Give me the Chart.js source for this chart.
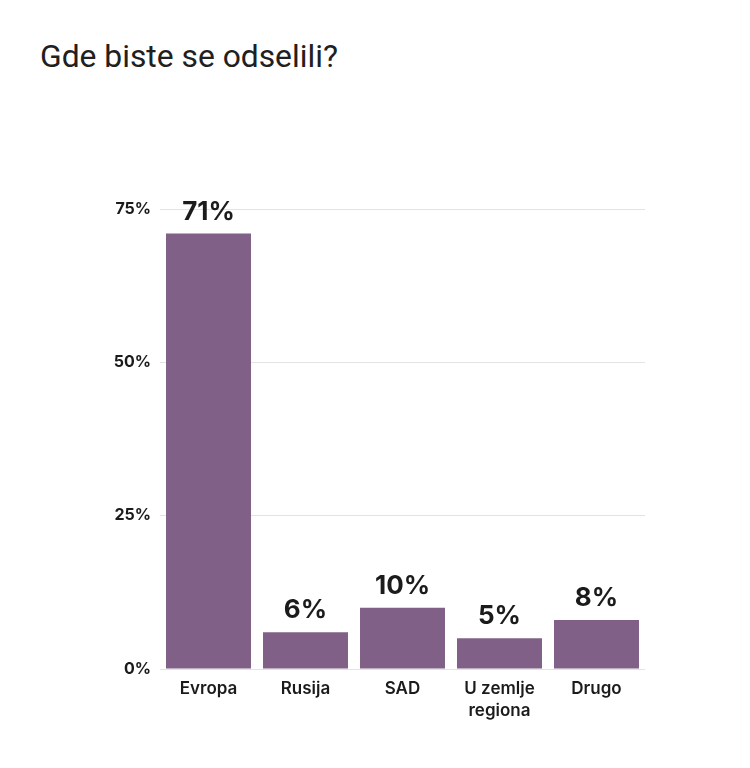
<!DOCTYPE html>
<html>
<head>
<meta charset="utf-8">
<script src="https://cdn.jsdelivr.net/npm/chart.js@4"></script>
<style>
  html, body { margin: 0; padding: 0; background: #fff; }
  #wrap { position: relative; width: 750px; height: 768px; }
  #title {
    position: absolute; left: 40px; top: 36px;
    font-family: Roboto, sans-serif; font-size: 31.8px; color: #202020;
    margin: 0; font-weight: 400; line-height: 40px;
  }
  canvas { position: absolute; left: 0; top: 0; }
</style>
</head>
<body>
<div id="wrap">
  <h1 id="title">Gde biste se odselili?</h1>
  <canvas id="chart" width="750" height="768"></canvas>
</div>
<script>
const categories = ['Evropa', 'Rusija', 'SAD', ['U zemlje', 'regiona'], 'Drugo'];
const values = [71, 6, 10, 5, 8];
const yTicks = [0, 25, 50, 75];

const barColor = '#806086';
const textColor = '#1b1b1b';
const fontFamily = 'Inter, sans-serif';

// value labels above bars
const valueLabels = {
    id: 'valueLabels',
    afterDatasetsDraw(chart) {
        const ctx = chart.ctx;
        const meta = chart.getDatasetMeta(0);
        ctx.save();
        ctx.font = '700 26px ' + fontFamily;
        ctx.fillStyle = textColor;
        ctx.textAlign = 'center';
        ctx.textBaseline = 'alphabetic';
        meta.data.forEach((bar, i) => {
            ctx.fillText(values[i] + '%', bar.x, bar.y - 14);
        });
        ctx.restore();
    }
};

const ctx = document.getElementById('chart').getContext('2d');
new Chart(ctx, {
    type: 'bar',
    data: {
        labels: categories,
        datasets: [{
            data: values,
            backgroundColor: barColor,
            borderWidth: 0,
            barPercentage: 0.876,
            categoryPercentage: 1
        }]
    },
    options: {
        responsive: false,
        animation: false,
        layout: { padding: { top: 209, right: 105, bottom: 0, left: 0 } },
        scales: {
            x: {
                grid: { display: false, drawTicks: false },
                border: { display: false },
                ticks: {
                    color: textColor,
                    font: { family: fontFamily, size: 17, weight: '600', lineHeight: 1.3 },
                    padding: 9,
                    maxRotation: 0
                },
                afterFit(scale) { scale.height = 99; }
            },
            y: {
                min: 0,
                max: 75,
                afterBuildTicks(scale) { scale.ticks = yTicks.map(v => ({ value: v })); },
                grid: { color: '#e3e3e3', drawTicks: false, lineWidth: 1 },
                border: { display: false },
                ticks: {
                    color: textColor,
                    font: { family: fontFamily, size: 16, weight: '700' },
                    padding: 9,
                    callback: v => v + '%'
                },
                afterFit(scale) { scale.width = 160; }
            }
        },
        plugins: {
            legend: { display: false },
            tooltip: { enabled: false }
        }
    },
    plugins: [valueLabels]
});
</script>
</body>
</html>
